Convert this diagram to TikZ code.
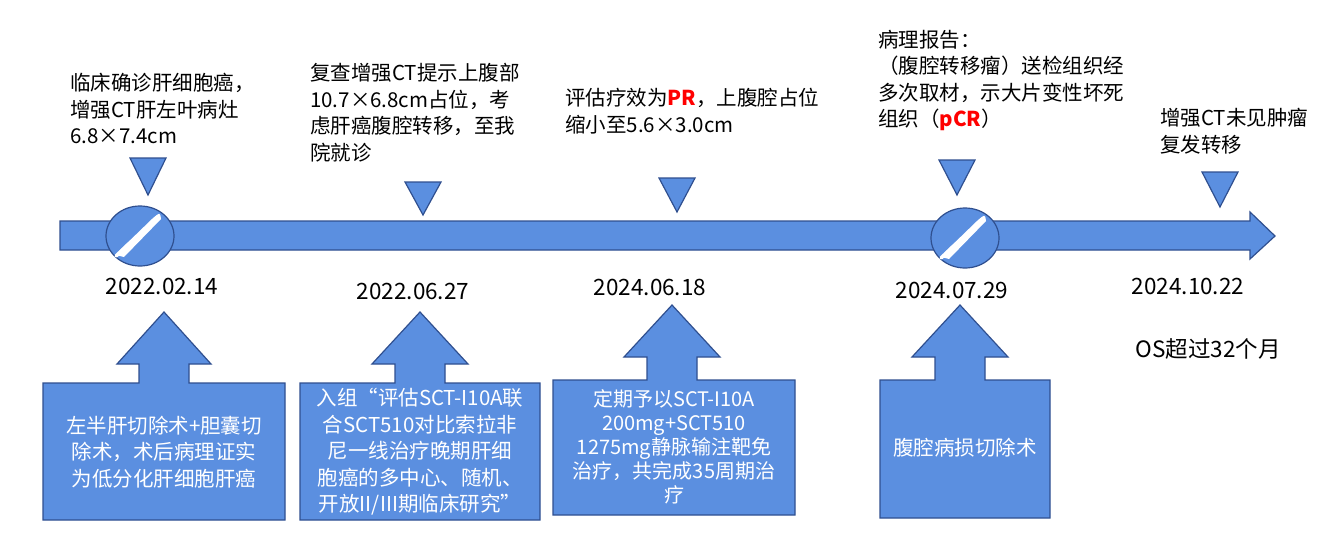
\documentclass[tikz,border=0pt]{standalone}
\usepackage{fontspec}
\setmainfont{Noto Sans CJK SC}
\definecolor{fillblue}{HTML}{5B8FE0}
\definecolor{edgeblue}{HTML}{2F4F8F}
\definecolor{hotred}{HTML}{FF0000}
\tikzset{
  blueshape/.style={fill=fillblue, draw=edgeblue, line width=1.2pt},
  note/.style={align=left, anchor=north west, inner sep=0pt, font=\fontsize{20.5}{26.5}\selectfont},
  boxtext/.style={align=center, text=white, inner sep=0pt, font=\fontsize{20.5}{26.5}\selectfont},
  datetext/.style={inner sep=0pt, font=\fontsize{22.5}{24}\selectfont}
}
\newcommand{\downmark}[3]{\draw[blueshape] (#1-18,#2) -- (#1+18,#2) -- (#1,#3) -- cycle;}
\newcommand{\callout}[8]{% box x1,x2,y1,y2, tip x, tip y, head half, stem half
  \draw[blueshape] (#1,#3) -- (#5-#8,#3) -- (#5-#8,#6+52) -- (#5-#7,#6+52) -- (#5,#6)
    -- (#5+#7,#6+52) -- (#5+#8,#6+52) -- (#5+#8,#3) -- (#2,#3) -- (#2,#4) -- (#1,#4) -- cycle;}
\newcommand{\knife}[2]{
  \fill[white] (#1-24,#2+19) -- (#1-20,#2+14) -- (#1+12,#2-17) .. controls (#1+20,#2-24) .. (#1+21,#2-17)
    -- (#1-16,#2+21) -- cycle;
  \draw[white, line width=3.5pt, line cap=round] (#1-24,#2+20) -- (#1-8,#2+5);}
\begin{document}
\begin{tikzpicture}[x=1pt,y=-1pt]
\useasboundingbox (0,0) rectangle (1336,535);
% timeline
\draw[blueshape] (60,221) -- (1250,221) -- (1250,212) -- (1275,236) -- (1250,259) -- (1250,250) -- (60,250) -- cycle;
\draw[blueshape] (140,236) ellipse (34 and 30);
\draw[blueshape] (965,238) ellipse (34 and 30);
\knife{140}{236}
\knife{965}{238}
% markers
\downmark{148}{158}{195}
\downmark{423}{182}{215}
\downmark{677}{178}{212}
\downmark{957}{160}{195}
\downmark{1220}{172}{207}
% top notes
\node[note] (n1) at (70,73) {临床确诊肝细胞癌，\\增强CT肝左叶病灶\\6.8×7.4cm};
\node[note] (n2) at (310,63) {复查增强CT提示上腹部\\10.7×6.8cm占位，考\\虑肝癌腹腔转移，至我\\院就诊};
\node[note] (n3) at (565,88) {评估疗效为\textcolor{hotred}{\textbf{PR}}，上腹腔占位\\缩小至5.6×3.0cm};
\node[note] (n4) at (878,30) {病理报告：\\（腹腔转移瘤）送检组织经\\多次取材，示大片变性坏死\\组织（\textcolor{hotred}{\textbf{pCR}}）};
\node[note] (n5) at (1160,108) {增强CT未见肿瘤\\复发转移};
% dates
\node[datetext] (d1) at (162,286) {2022.02.14};
\node[datetext] (d2) at (413,291) {2022.06.27};
\node[datetext] (d3) at (650,287) {2024.06.18};
\node[datetext] (d4) at (952,290) {2024.07.29};
\node[datetext] (d5) at (1188,286) {2024.10.22};
\node[datetext] (os) at (1208,349) {OS超过32个月};
% callouts
\callout{43}{285}{383}{520}{164}{312}{47}{25}
\callout{300}{540}{383}{520}{420}{312}{48}{25}
\callout{553}{795}{380}{515}{672}{305}{48}{25}
\callout{880}{1050}{380}{518}{960}{305}{48}{25}
\node[boxtext] (b1) at (164,452) {左半肝切除术+胆囊切\\除术，术后病理证实\\为低分化肝细胞肝癌};
\node[boxtext] (b2) at (420,452) {入组“评估SCT-I10A联\\合SCT510对比索拉非\\尼一线治疗晚期肝细\\胞癌的多中心、随机、\\开放II/III期临床研究”};
\node[boxtext, font=\fontsize{20}{24}\selectfont] (b3) at (674,447) {定期予以SCT-I10A\\200mg+SCT510\\1275mg静脉输注靶免\\治疗，共完成35周期治\\疗};
\node[boxtext] (b4) at (965,448) {腹腔病损切除术};
\end{tikzpicture}
\end{document}
